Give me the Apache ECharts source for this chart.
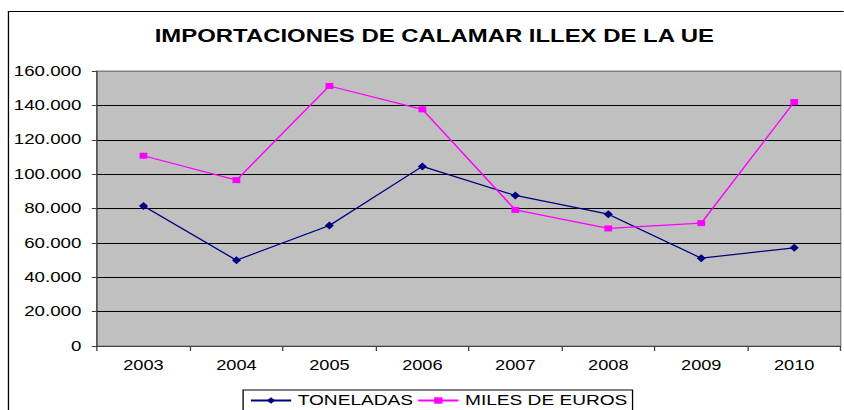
<!DOCTYPE html>
<html lang="es">
<head>
<meta charset="UTF-8">
<title>Importaciones de calamar Illex de la UE</title>
<style>
  html, body { margin: 0; padding: 0; background: #fff; overflow: hidden; }
  /* the original picture is stretched sideways, so draw narrow and widen it */
  #main { width: 649px; height: 410px; transform: scaleX(1.3); transform-origin: 0 0; }
</style>
</head>
<body>
<div id="main"></div>
<script src="https://cdn.jsdelivr.net/npm/echarts@6/dist/echarts.min.js"></script>
<script>
var years = ['2003', '2004', '2005', '2006', '2007', '2008', '2009', '2010'];
var toneladas = [81400, 49900, 70100, 104500, 87600, 76700, 51100, 57100];
var milesEuros = [110700, 96500, 151300, 137700, 79200, 68400, 71500, 142000];

var font = 'Liberation Sans, Arial, sans-serif';

function miles(v) {
    return String(v).replace(/\B(?=(\d{3})+(?!\d))/g, '.');
}

var chart = echarts.init(document.getElementById('main'), null, { renderer: 'svg' });
chart.setOption({
    backgroundColor: '#fff',
    animation: false,
    graphic: [{
        type: 'rect',
        shape: { x: 6.5, y: 11.5, width: 900, height: 500 },
        style: { fill: 'none', stroke: '#000', lineWidth: 1 },
        z: 0
    }],
    title: {
        text: 'IMPORTACIONES DE CALAMAR ILLEX DE LA UE',
        left: 114,
        top: 22,
        textStyle: { fontFamily: font, fontSize: 18.4, fontWeight: 'bold', color: '#000' }
    },
    legend: {
        left: 187,
        top: 390,
        itemWidth: 31,
        itemHeight: 8,
        itemGap: 3,
        padding: [3, 4, 3, 5],
        borderColor: '#000',
        borderWidth: 1,
        textStyle: { fontFamily: font, fontSize: 14.7, color: '#000' },
        data: ['TONELADAS', 'MILES DE EUROS']
    },
    grid: {
        left: 74.6, top: 71, right: 2.3, bottom: 64,
        show: true,
        backgroundColor: '#C0C0C0',
        borderColor: '#808080',
        borderWidth: 1
    },
    xAxis: {
        type: 'category',
        data: years,
        boundaryGap: true,
        axisLine: { lineStyle: { color: '#404040', width: 1 } },
        axisTick: { show: true, length: 5, lineStyle: { color: '#404040' } },
        axisLabel: { fontFamily: font, fontSize: 14, color: '#000', margin: 12 }
    },
    yAxis: {
        type: 'value',
        min: 0,
        max: 160000,
        interval: 20000,
        axisLine: { show: true, lineStyle: { color: '#404040', width: 1 } },
        axisTick: { show: true, length: 4, lineStyle: { color: '#404040' } },
        splitLine: { lineStyle: { color: ['#000', '#000', '#000', '#000', '#000', '#000', '#000', '#000', '#808080'], width: 1 } },
        axisLabel: {
            fontFamily: font, fontSize: 14.4, color: '#000', margin: 12,
            formatter: function (v) { return miles(v); }
        }
    },
    series: [{
        name: 'TONELADAS',
        type: 'line',
        data: toneladas,
        symbol: 'diamond',
        symbolSize: [7, 8],
        lineStyle: { color: '#000080', width: 1.2 },
        itemStyle: { color: '#000080' }
    }, {
        name: 'MILES DE EUROS',
        type: 'line',
        data: milesEuros,
        symbol: 'rect',
        symbolSize: 6,
        lineStyle: { color: '#FF00FF', width: 1.2 },
        itemStyle: { color: '#FF00FF' }
    }]
});
</script>
</body>
</html>
